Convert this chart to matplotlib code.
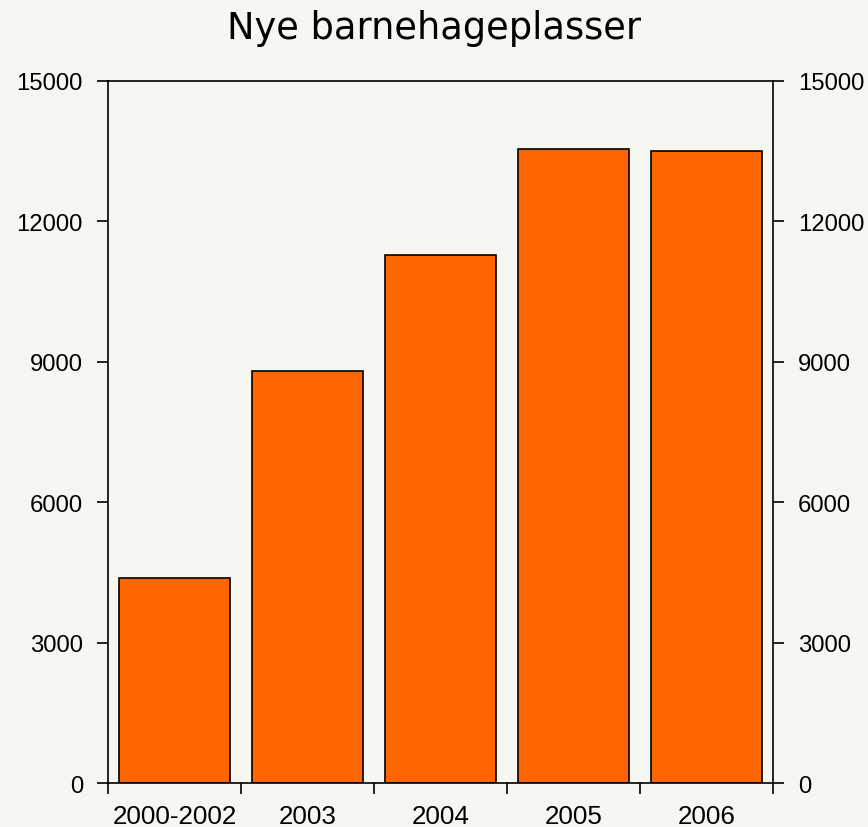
import numpy as np
import matplotlib.pyplot as plt

categories = ['2000-2002', '2003', '2004', '2005', '2006']
values = [4370, 8800, 11280, 13540, 13500]

bg = '#f7f7f2'
plt.rcParams['font.family'] = 'Liberation Sans'
fig = plt.figure(figsize=(8.68, 8.28), dpi=100, facecolor=bg)
ax = fig.add_axes([0.1244, 0.0531, 0.7662, 0.8479], facecolor=bg)

x = np.arange(len(categories))
ax.bar(x, values, width=0.83, color='#ff6600', edgecolor='black', linewidth=1.2)

ax.set_xlim(-0.5, len(categories) - 0.5)
ax.set_ylim(0, 15000)
ax.set_yticks(np.arange(0, 15001, 3000))

# x ticks at category boundaries, labels centred
ax.set_xticks(np.arange(-0.5, len(categories), 1.0))
ax.set_xticklabels([])
ax.set_xticks(x, minor=True)
ax.set_xticklabels(categories, minor=True)
ax.tick_params(axis='x', which='minor', length=0, pad=15, labelsize=18.7)
ax.tick_params(axis='x', which='major', length=8, width=1.2, direction='out')

ax.tick_params(axis='y', which='both', left=True, right=True, labelleft=True, labelright=True,
               length=8, width=1.2, direction='out', pad=10, labelsize=17.2)

for s in ax.spines.values():
    s.set_linewidth(1.2)

fig.text(0.5, 0.965, 'Nye barnehageplasser', ha='center', va='center',
         fontname='DejaVu Sans', fontsize=26.5)

fig.savefig('out.png', dpi=100, facecolor=bg)
